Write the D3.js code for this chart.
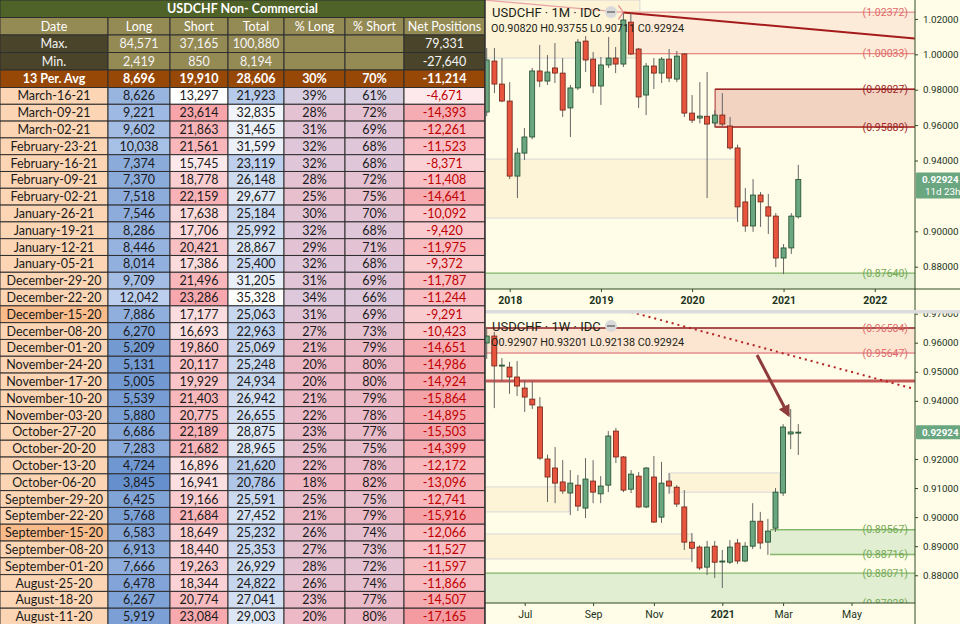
<!DOCTYPE html>
<html lang="en">
<head>
<meta charset="utf-8">
<title>USDCHF Non- Commercial</title>
<script src="https://cdn.jsdelivr.net/npm/d3@7"></script>
<style>
  body { margin: 0; background: #ffffff; }
  svg { display: block; }
  .cell text { font-family: Lato, "Open Sans", sans-serif; font-size: 12.5px; }
  .chart text { font-family: Roboto, "DejaVu Sans", sans-serif; }
</style>
</head>
<body>
<script>

// ---- COT table ----
var reportDates = ["March-16-21","March-09-21","March-02-21","February-23-21","February-16-21","February-09-21",
  "February-02-21","January-26-21","January-19-21","January-12-21","January-05-21","December-29-20",
  "December-22-20","December-15-20","December-08-20","December-01-20","November-24-20","November-17-20",
  "November-10-20","November-03-20","October-27-20","October-20-20","October-13-20","October-06-20",
  "September-29-20","September-22-20","September-15-20","September-08-20","September-01-20","August-25-20",
  "August-18-20","August-11-20"];
var longs  = [8626,9221,9602,10038,7374,7370,7518,7546,8286,8446,8014,9709,12042,7886,6270,5209,
  5131,5005,5539,5880,6686,7283,4724,3845,6425,5768,6583,6913,7666,6478,6267,5919];
var shorts = [13297,23614,21863,21561,15745,18778,22159,17638,17706,20421,17386,21496,23286,17177,16693,19860,
  20117,19929,21403,20775,22189,21682,16896,16941,19166,21684,18649,18440,19263,18344,20774,23084];
var totals = [21923,32835,31465,31599,23119,26148,29677,25184,25992,28867,25400,31205,35328,25063,22963,25069,
  25248,24934,26942,26655,28875,28965,21620,20786,25591,27452,25232,25353,26929,24822,27041,29003];
var pctLong  = [39,28,31,32,32,28,25,30,32,29,32,31,34,31,27,21,20,20,21,22,23,25,22,18,25,21,26,27,28,26,23,20];
var pctShort = [61,72,69,68,68,72,75,70,68,71,68,69,66,69,73,79,80,80,79,78,77,75,78,82,75,79,74,73,72,74,77,80];
var netPos = [-4671,-14393,-12261,-11523,-8371,-11408,-14641,-10092,-9420,-11975,-9372,-11787,-11244,-9291,-10423,-14651,
  -14986,-14924,-15864,-14895,-15503,-14399,-12172,-13096,-12741,-15916,-12066,-11527,-11597,-11866,-14507,-17165];
var highlightDates = ["December-15-20","September-15-20"];

var headers = ["Date","Long","Short","Total","% Long","% Short","Net Positions"];
var maxRow = ["Max.", 84571, 37165, 100880, "", "", 79331];
var minRow = ["Min.", 2419, 850, 8194, "", "", -27640];
var avgRow = ["13 Per. Avg", 8696, 19910, 28606, "30%", "70%", -11214];

// ---- monthly candles (Oct 2017 .. Mar 2021) ----
var mOpen  = [0.9674,0.9962,0.9832,0.9736,0.9312,0.9442,0.9533,0.9906,0.9849,0.9923,0.9894,0.9697,0.9810,1.0075,
  0.9973,0.9821,0.9940,0.9979,0.9945,1.0182,1.0030,0.9770,0.9934,0.9894,0.9973,0.9860,1.0002,0.9668,0.9640,0.9650,
  0.9612,0.9657,0.9595,0.9471,0.9166,0.9030,0.9205,0.9138,0.9086,0.8849,0.8906,0.90820];
var mHigh  = [1.0036,1.0036,0.9979,0.9843,0.9470,0.9584,0.9923,1.0053,0.9996,1.0064,0.9979,0.9827,1.0086,1.0103,
  1.0013,0.9985,1.0098,1.0041,1.0233,1.0233,1.0036,0.9951,0.9979,0.9985,1.0030,1.0019,1.0007,0.9770,0.9843,0.9900,
  0.9685,0.9781,0.9646,0.9490,0.9245,0.9295,0.9222,0.9211,0.9103,0.8928,0.9103,0.93755];
var mLow   = [0.9650,0.9781,0.9730,0.9295,0.9188,0.9403,0.9520,0.9815,0.9827,0.9838,0.9646,0.9533,0.9798,0.9900,
  0.9781,0.9714,0.9923,0.9894,0.9928,0.9996,0.9697,0.9657,0.9804,0.9838,0.9843,0.9843,0.9646,0.9612,0.9610,0.9188,
  0.9590,0.9590,0.9460,0.9053,0.8997,0.8997,0.9025,0.8985,0.8798,0.8758,0.8872,0.90711];
var mClose = [0.9968,0.9832,0.9736,0.9312,0.9442,0.9533,0.9906,0.9849,0.9900,0.9894,0.9685,0.9810,1.0069,0.9968,
  0.9821,0.9940,0.9979,0.9945,1.0194,1.0002,0.9759,0.9934,0.9894,0.9973,0.9866,0.9990,0.9668,0.9628,0.9651,0.9606,
  0.9657,0.9606,0.9471,0.9138,0.9030,0.9205,0.9166,0.9086,0.8849,0.8906,0.9086,0.92924];
var monthlyLevels = [1.02372, 1.00033, 0.98027, 0.95889, 0.87640];

// ---- weekly candles (Jun 1 2020 .. Mar 15 2021) ----
var wOpen  = [0.9599,0.9623,0.9520,0.9516,0.9482,0.9444,0.9406,0.9379,0.9200,0.9169,0.9121,0.9083,0.9110,0.9031,
  0.9124,0.9080,0.9110,0.9296,0.9207,0.9096,0.9141,0.9035,0.9138,0.9000,0.9124,0.9103,0.9035,0.8914,0.8897,0.8828,
  0.8900,0.8848,0.8845,0.8911,0.8849,0.8900,0.8986,0.8914,0.8962,0.9083,0.9286,0.92907];
var wHigh  = [0.9651,0.9637,0.9547,0.9534,0.9537,0.9472,0.9468,0.9413,0.9215,0.9241,0.9196,0.9162,0.9145,0.9203,
  0.9196,0.9141,0.9296,0.9307,0.9210,0.9162,0.9155,0.9172,0.9210,0.9190,0.9152,0.9110,0.9093,0.8945,0.8903,0.8918,
  0.8918,0.8887,0.8921,0.8925,0.8914,0.9048,0.9018,0.8994,0.9100,0.9320,0.9372,0.93201];
var wLow   = [0.9544,0.9375,0.9465,0.9424,0.9417,0.9362,0.9372,0.9196,0.9052,0.9048,0.9080,0.9007,0.9021,0.8997,
  0.9048,0.9048,0.9086,0.9186,0.9086,0.9083,0.9031,0.9031,0.8980,0.8980,0.9080,0.9035,0.8887,0.8845,0.8818,0.8801,
  0.8791,0.8756,0.8839,0.8839,0.8845,0.8890,0.8890,0.8870,0.8949,0.9073,0.9234,0.92138];
var wClose = [0.9623,0.9520,0.9523,0.9482,0.9451,0.9413,0.9386,0.9203,0.9138,0.9117,0.9090,0.9117,0.9038,0.9131,
  0.9086,0.9107,0.9279,0.9207,0.9093,0.9148,0.9035,0.9169,0.8983,0.9117,0.9107,0.9045,0.8914,0.8893,0.8825,0.8897,
  0.8845,0.8849,0.8897,0.8849,0.8900,0.8986,0.8911,0.8952,0.9086,0.9310,0.9293,0.92924];
var weeklyLevels = [0.96504, 0.95647, 0.89567, 0.88716, 0.88071, 0.87028];
var weeklyResistance = 0.9468;
var lastPrice = 0.92924;

var W = 960, H = 624;
var fmt = d3.formatLocale({decimal: ".", thousands: ",", grouping: [3], currency: ["", ""], minus: "-"}).format(",");

var svg = d3.select("body").append("svg").attr("width", W).attr("height", H);

// ================= TABLE =================
var colX = [0, 108, 170, 228, 284, 345, 404, 485];
var table = svg.append("g").attr("class", "cell");

function cell(x0, x1, y0, y1, fill, txt, color, weight) {
  table.append("rect").attr("x", x0).attr("y", y0).attr("width", x1 - x0).attr("height", y1 - y0)
    .attr("fill", fill).attr("stroke", "#2e2e2e").attr("stroke-width", 1);
  table.append("text").attr("x", (x0 + x1) / 2).attr("y", (y0 + y1) / 2).attr("dy", "0.36em")
    .attr("text-anchor", "middle").attr("fill", color).attr("font-weight", weight || "normal").text(txt);
}

cell(0, 485, 0, 17.5, "#4f6228", "USDCHF Non- Commercial", "#ffffff", "bold");
headers.forEach(function(h, i) { cell(colX[i], colX[i + 1], 17.5, 35, "#948a54", h, "#ffffff"); });
[maxRow, minRow].forEach(function(r, k) {
  var y0 = 35 + k * 17.5;
  r.forEach(function(v, i) {
    var dark = (i === 0 || i === 6);
    cell(colX[i], colX[i + 1], y0, y0 + 17.5, dark ? "#4a452a" : "#948a54",
      typeof v === "number" ? fmt(v) : v, "#f4f4f4");
  });
});
avgRow.forEach(function(v, i) {
  cell(colX[i], colX[i + 1], 70, 87.5, "#974806", typeof v === "number" ? fmt(v) : v, "#ffffff", "bold");
});

var rowY = d3.scaleBand().domain(reportDates).range([87.5, 625]);
var longColor  = d3.scaleLinear().domain(d3.extent(longs)).range(["#6690cd", "#bccfee"]);
var shortColor = d3.scaleLinear().domain(d3.extent(shorts)).range(["#ffffff", "#f7a4aa"]);
var totalColor = d3.scaleLinear().domain(d3.extent(totals)).range(["#b0c6e9", "#ffffff"]);
var pLongColor = d3.scaleLinear().domain(d3.extent(pctLong)).range(["#f0b7c3", "#d7cee2"]);
var pShortColor = d3.scaleLinear().domain(d3.extent(pctShort)).range(["#d7cee2", "#f0b7c3"]);
var netColor   = d3.scaleLinear().domain(d3.extent(netPos)).range(["#f39ba1", "#fde9ec"]);

reportDates.forEach(function(d, i) {
  var y0 = rowY(d), y1 = y0 + rowY.bandwidth();
  cell(colX[0], colX[1], y0, y1, highlightDates.indexOf(d) >= 0 ? "#f9bb8a" : "#fcd5b4", d, "#1a1a1a");
  cell(colX[1], colX[2], y0, y1, longColor(longs[i]), fmt(longs[i]), "#1a1a1a");
  cell(colX[2], colX[3], y0, y1, shortColor(shorts[i]), fmt(shorts[i]), "#1a1a1a");
  cell(colX[3], colX[4], y0, y1, totalColor(totals[i]), fmt(totals[i]), "#1a1a1a");
  cell(colX[4], colX[5], y0, y1, pLongColor(pctLong[i]), pctLong[i] + "%", "#1a1a1a");
  cell(colX[5], colX[6], y0, y1, pShortColor(pctShort[i]), pctShort[i] + "%", "#1a1a1a");
  cell(colX[6], colX[7], y0, y1, netColor(netPos[i]), fmt(netPos[i]), "#c00000");
});

// ================= CHARTS =================
var plotL = 485.5, plotR = 915;
var chart = svg.append("g").attr("class", "chart");
chart.append("rect").attr("x", 485).attr("y", 0).attr("width", W - 485).attr("height", H).attr("fill", "#fffde8");

var defs = svg.append("defs");
defs.append("clipPath").attr("id", "clipTop").append("rect")
  .attr("x", plotL).attr("y", 0).attr("width", plotR - plotL).attr("height", 289);
defs.append("clipPath").attr("id", "clipBot").append("rect")
  .attr("x", plotL).attr("y", 313).attr("width", plotR - plotL).attr("height", 290);
defs.append("marker").attr("id", "arrowHead").attr("viewBox", "0 0 10 10").attr("refX", 8).attr("refY", 5)
  .attr("markerWidth", 4).attr("markerHeight", 4).attr("orient", "auto")
  .append("path").attr("d", "M0,0L10,5L0,10Z").attr("fill", "#8e3b3b");

var monthDates = d3.timeMonth.range(new Date(2017, 9, 1), new Date(2021, 3, 1));
var weekDates = d3.timeMonday.range(new Date(2020, 5, 1), new Date(2021, 2, 16));

var xTop = d3.scaleTime().domain([monthDates[0], monthDates[monthDates.length - 1]]).range([486.7, 798.3]);
var yTop = d3.scaleLinear().domain([0.8674, 1.0307]).range([289, 0]);
var xBot = d3.scaleTime().domain([weekDates[0], weekDates[weekDates.length - 1]]).range([486.7, 798.3]);
var yBot = d3.scaleLinear().domain([0.87046, 0.97022]).range([603, 313]);

function zone(g, x, y, d0, d1, p0, p1, fill, stroke) {
  var xa = d0 ? x(d0) : plotL - 2, xb = d1 ? x(d1) : plotR + 2;
  g.append("rect").attr("x", xa).attr("width", xb - xa)
    .attr("y", y(p0)).attr("height", y(p1) - y(p0))
    .attr("fill", fill).attr("stroke", stroke || "none").attr("stroke-width", 1);
}
function hline(g, x, y, d0, p, color, width, dash) {
  var xa = d0 ? x(d0) : plotL;
  g.append("line").attr("x1", xa).attr("x2", plotR).attr("y1", y(p)).attr("y2", y(p))
    .attr("stroke", color).attr("stroke-width", width).attr("stroke-dasharray", dash || null);
}
function levelLabel(g, y, p, color) {
  g.append("text").attr("x", 908).attr("y", y(p)).attr("dy", "0.35em").attr("text-anchor", "end")
    .attr("font-size", "10.5px").attr("fill", color).text("(" + p.toFixed(5) + ")");
}
function candles(g, x, y, dates, o, h, l, c) {
  var data = dates.map(function(d, i) { return {date: d, o: o[i], h: h[i], l: l[i], c: c[i]}; });
  g.selectAll("line.wick").data(data).enter().append("line").attr("class", "wick")
    .attr("x1", function(d) { return x(d.date); }).attr("x2", function(d) { return x(d.date); })
    .attr("y1", function(d) { return y(d.h); }).attr("y2", function(d) { return y(d.l); })
    .attr("stroke", "#666666").attr("stroke-width", 1);
  g.selectAll("rect.body").data(data).enter().append("rect").attr("class", "body")
    .attr("x", function(d) { return x(d.date) - 2.5; }).attr("width", 5)
    .attr("y", function(d) { return y(Math.max(d.o, d.c)); })
    .attr("height", function(d) { return Math.max(1, Math.abs(y(d.o) - y(d.c))); })
    .attr("fill", function(d) { return d.c >= d.o ? "#6aa680" : "#e8553f"; })
    .attr("stroke", function(d) { return d.c >= d.o ? "#1f4a2c" : "#6e2014"; })
    .attr("stroke-width", 0.8);
}
function legend(g, y0, title, o, h, l, c) {
  g.append("text").attr("x", 492).attr("y", y0).attr("font-size", "13px").attr("fill", "#1c2416").text(title);
  g.append("circle").attr("cx", 611).attr("cy", y0 - 5).attr("r", 6).attr("fill", "#d9d9d9");
  g.append("rect").attr("x", 607).attr("y", y0 - 6).attr("width", 8).attr("height", 2).attr("fill", "#8a8a8a");
  g.append("text").attr("x", 491).attr("y", y0 + 15).attr("font-size", "10.8px").attr("fill", "#1c2416")
    .text("O" + o.toFixed(5) + " H" + h.toFixed(5) + " L" + l.toFixed(5) + " C" + c.toFixed(5));
}
function priceAxis(y, ticks) {
  var ax = chart.append("g").attr("transform", "translate(" + plotR + ",0)")
    .call(d3.axisRight(y).tickValues(ticks).tickFormat(d3.format(".5f")).tickSize(3).tickPadding(5));
  ax.select(".domain").remove();
  ax.selectAll("line").attr("stroke", "#2f4a22");
  ax.selectAll("text").attr("font-size", "9.8px").attr("fill", "#22331c").attr("font-family", null);
  return ax;
}
function priceTag(y, rows) {
  var yy = y(lastPrice);
  chart.append("rect").attr("x", plotR + 1).attr("y", yy - 7).attr("width", W - plotR).attr("height", rows * 12 + 2)
    .attr("fill", "#6aa680").attr("rx", 1);
  chart.append("text").attr("x", 922).attr("y", yy).attr("dy", "0.35em").attr("font-size", "9.8px")
    .attr("fill", "#ffffff").attr("font-weight", "bold").text(lastPrice.toFixed(5));
  if (rows > 1) {
    chart.append("text").attr("x", 925).attr("y", yy + 12).attr("dy", "0.35em").attr("font-size", "9.8px")
      .attr("fill", "#ffffff").text("11d 23h");
  }
}

// ---- top: monthly ----
var gT = chart.append("g").attr("clip-path", "url(#clipTop)");
zone(gT, xTop, yTop, null, new Date(2019, 5, 6), 1.0307, 0.9979, "#fdf3d6", "#d8d8d8");
zone(gT, xTop, yTop, new Date(2019, 3, 20), null, monthlyLevels[0], monthlyLevels[1], "#fcebd8");
zone(gT, xTop, yTop, null, new Date(2020, 5, 29), 0.9408, 0.9075, "#fdf3d6", "#d8d8d8");
zone(gT, xTop, yTop, new Date(2020, 3, 2), null, monthlyLevels[2], monthlyLevels[3], "#f2d3c2", "#a8302c");
zone(gT, xTop, yTop, null, null, monthlyLevels[4], 0.86, "#e1eed2");
hline(gT, xTop, yTop, new Date(2019, 3, 1), monthlyLevels[0], "#e8a3a0", 1.5);
hline(gT, xTop, yTop, new Date(2019, 3, 20), monthlyLevels[1], "#e06a68", 1);
hline(gT, xTop, yTop, new Date(2020, 3, 2), monthlyLevels[2], "#9c2424", 1.5);
hline(gT, xTop, yTop, new Date(2020, 3, 2), monthlyLevels[3], "#b03a36", 1.5);
hline(gT, xTop, yTop, null, monthlyLevels[4], "#7fb466", 1.2);
// falling trendline and arrow into the high
gT.append("line").attr("x1", xTop(new Date(2017, 8, 20))).attr("y1", yTop(1.0307))
  .attr("x2", xTop(new Date(2019, 3, 1))).attr("y2", yTop(1.0237)).attr("stroke", "#eaa3a3").attr("stroke-width", 1.2);
gT.append("path").attr("d", "M" + (xTop(new Date(2019, 3, 1)) - 5) + "," + (yTop(1.0237) - 7) + "l5,7l-5,7")
  .attr("fill", "none").attr("stroke", "#e58e8e").attr("stroke-width", 1.2);
gT.append("line").attr("x1", xTop(new Date(2019, 3, 1))).attr("y1", yTop(1.0237))
  .attr("x2", xTop(new Date(2022, 5, 10))).attr("y2", yTop(1.0090)).attr("stroke", "#a51b1b").attr("stroke-width", 2);
candles(gT, xTop, yTop, monthDates, mOpen, mHigh, mLow, mClose);
levelLabel(gT, yTop, monthlyLevels[0], "#e06a6a");
levelLabel(gT, yTop, monthlyLevels[1], "#e06a6a");
levelLabel(gT, yTop, monthlyLevels[2], "#9c2424");
levelLabel(gT, yTop, monthlyLevels[3], "#9c2424");
levelLabel(gT, yTop, monthlyLevels[4], "#74a954");
legend(chart, 17, "USDCHF \u00b7 1M \u00b7 IDC", mOpen[41], mHigh[41], mLow[41], mClose[41]);

// ---- bottom: weekly ----
var gB = chart.append("g").attr("clip-path", "url(#clipBot)");
zone(gB, xBot, yBot, null, null, weeklyLevels[0], weeklyLevels[1], "#fce5d1");
zone(gB, xBot, yBot, null, new Date(2020, 7, 16), 0.9104, 0.9018, "#fdf3d6", "#d8d8d8");
zone(gB, xBot, yBot, new Date(2020, 10, 17), new Date(2021, 1, 26), 0.9152, 0.9086, "#fdf3d6", "#d8d8d8");
zone(gB, xBot, yBot, null, new Date(2020, 11, 7), 0.8942, 0.8856, "#fdf3d6", "#d8d8d8");
zone(gB, xBot, yBot, new Date(2021, 1, 17), null, weeklyLevels[2], weeklyLevels[3], "#e1eed2");
zone(gB, xBot, yBot, null, null, weeklyLevels[4], 0.86, "#e1eed2");
hline(gB, xBot, yBot, null, weeklyLevels[0], "#8b1c1c", 1.5);
hline(gB, xBot, yBot, null, weeklyLevels[1], "#eba5a2", 2);
hline(gB, xBot, yBot, null, weeklyResistance, "#c45a58", 3);
hline(gB, xBot, yBot, new Date(2021, 1, 17), weeklyLevels[2], "#86b86c", 1.5);
hline(gB, xBot, yBot, new Date(2021, 1, 17), weeklyLevels[3], "#86b86c", 1.5);
hline(gB, xBot, yBot, null, weeklyLevels[4], "#7fb466", 1.2);
gB.append("line").attr("x1", xBot(new Date(2020, 9, 12))).attr("y1", yBot(0.97056))
  .attr("x2", xBot(new Date(2021, 5, 30))).attr("y2", yBot(0.94407))
  .attr("stroke", "#b22222").attr("stroke-width", 2).attr("stroke-dasharray", "2,4");
candles(gB, xBot, yBot, weekDates, wOpen, wHigh, wLow, wClose);
gB.append("line").attr("x1", xBot(new Date(2021, 1, 5))).attr("y1", yBot(0.95577))
  .attr("x2", xBot(new Date(2021, 2, 6))).attr("y2", yBot(0.93513))
  .attr("stroke", "#8e3b3b").attr("stroke-width", 3).attr("marker-end", "url(#arrowHead)");
weeklyLevels.forEach(function(p, i) {
  levelLabel(gB, yBot, p, i < 2 ? "#e06a6a" : "#74a954");
});
legend(chart, 331, "USDCHF \u00b7 1W \u00b7 IDC", wOpen[41], wHigh[41], wLow[41], wClose[41]);

// ---- axes ----
priceAxis(yTop, [0.88, 0.90, 0.94, 0.96, 0.98, 1.00, 1.02]);
priceAxis(yBot, [0.88, 0.89, 0.90, 0.91, 0.92, 0.94, 0.95, 0.96, 0.97]);
priceTag(yTop, 2);
priceTag(yBot, 1);

var axT = chart.append("g").attr("transform", "translate(0,289)")
  .call(d3.axisBottom(xTop).tickValues([2018, 2019, 2020, 2021, 2022].map(function(y) { return new Date(y, 0, 1); }))
    .tickFormat(d3.timeFormat("%Y")).tickSize(3).tickPadding(5));
axT.select(".domain").remove();
axT.selectAll("line").attr("stroke", "#2f4a22");
axT.selectAll("text").attr("font-size", "10.5px").attr("font-weight", "bold").attr("fill", "#22331c").attr("font-family", null);
chart.append("line").attr("x1", 485).attr("x2", W).attr("y1", 289).attr("y2", 289).attr("stroke", "#2f4a22");

var monthTicks = [new Date(2020, 6, 6), new Date(2020, 8, 7), new Date(2020, 10, 2),
  new Date(2021, 0, 4), new Date(2021, 2, 1), new Date(2021, 4, 3)];
var axB = chart.append("g").attr("transform", "translate(0,603)")
  .call(d3.axisBottom(xBot).tickValues(monthTicks)
    .tickFormat(function(d) { return d.getMonth() === 0 ? d3.timeFormat("%Y")(d) : d3.timeFormat("%b")(d); })
    .tickSize(3).tickPadding(5));
axB.select(".domain").remove();
axB.selectAll("line").attr("stroke", "#2f4a22");
axB.selectAll("text").attr("font-size", "10.5px").attr("fill", "#22331c").attr("font-family", null)
  .attr("font-weight", function(d) { return d.getMonth() === 0 ? "bold" : "normal"; });
chart.append("line").attr("x1", 485).attr("x2", plotR).attr("y1", 603).attr("y2", 603).attr("stroke", "#2f4a22");

chart.append("line").attr("x1", plotR).attr("x2", plotR).attr("y1", 0).attr("y2", H).attr("stroke", "#2f4a22");
chart.append("rect").attr("x", 485).attr("y", 310).attr("width", W - 485).attr("height", 3.5).attr("fill", "#dcdcdc");
chart.append("line").attr("x1", 485).attr("x2", 485).attr("y1", 0).attr("y2", H).attr("stroke", "#2e2e2e").attr("stroke-width", 1.5);

</script>
</body>
</html>
